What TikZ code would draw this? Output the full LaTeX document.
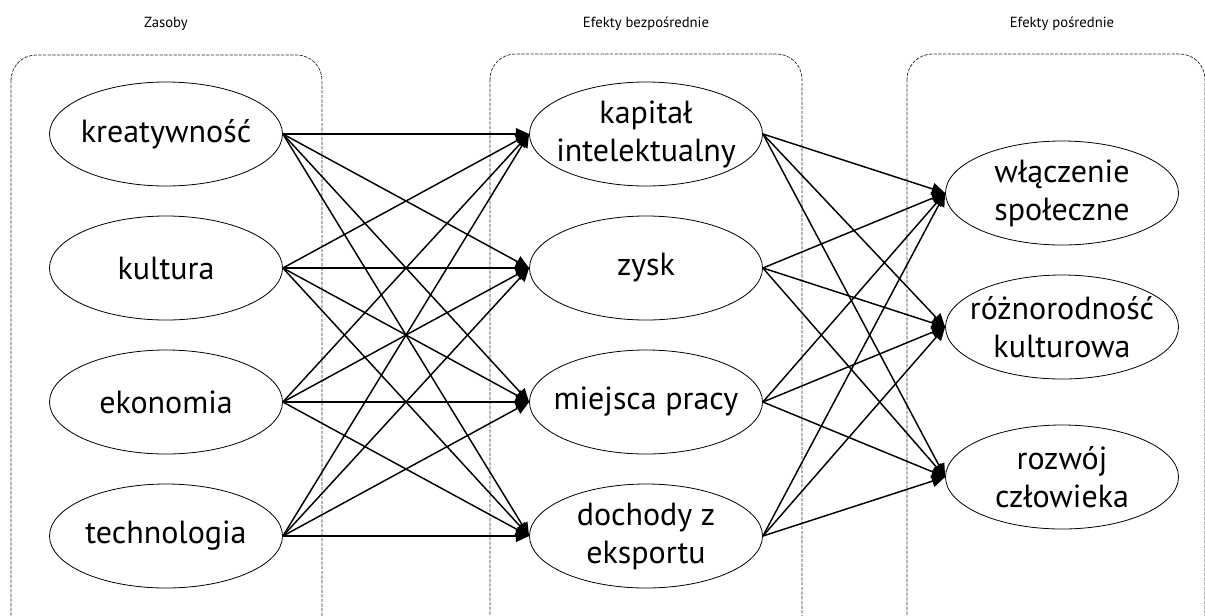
\documentclass[tikz,border=0pt]{standalone}
\usepackage{fontspec}
\setmainfont{PT Sans}
\usetikzlibrary{shapes.geometric}
\usetikzlibrary{positioning}
\usetikzlibrary{arrows.meta}

\begin{document}
\begin{tikzpicture} [ x=0.75pt, y=-0.75pt
								, node distance =100.5pt
								, wert/.style={ellipse, minimum width=174.75pt, minimum height=78pt, inner xsep=-30pt, inner ysep=0pt, line width=.6pt, draw, align=center, font=\fontsize{24}{28.5}\selectfont}
								, bereich/.style={draw=black!80, line width=.55pt, dash pattern=on 2.5pt off 1pt, rounded corners=19pt}
								, kopf/.style={font=\fontsize{11}{13}\selectfont}
								, pfeil/.style ={draw, line width=1.1pt, arrows= -{Triangle[length=10pt, width=9pt]}}
								]
	\useasboundingbox (0,0) rectangle (1205,615);

	% Bereiche
	\draw [bereich] (11,55) rectangle (322,640);
	\draw [bereich] (490,54) rectangle (802,640);
	\draw [bereich] (907,54) rectangle (1205,640);

	\node (Zasoby) 		[kopf] at (166,24) {Zasoby};
	\node (Bezposrednie) 	[kopf] at (646,24) {Efekty bezpośrednie};
	\node (Posrednie) 		[kopf] at (1062,24) {Efekty pośrednie};

	% Zasoby
	\node (kreatywnosc) 	[wert] at (166,134) {kreatywność};
	\node (kultura) 		[wert, below of = kreatywnosc] {kultura};
	\node (ekonomia) 		[wert, below of = kultura] {ekonomia};
	\node (technologia) 	[wert, below of = ekonomia] {technologia};

	% Efekty bezposrednie
	\node (kapital) 		[wert] at (646,134) {kapitał\\intelektualny};
	\node (zysk) 			[wert, below of = kapital] {zysk};
	\node (praca) 			[wert, below of = zysk] {miejsca pracy};
	\node (eksport) 		[wert, below of = praca] {dochody z\\eksportu};

	% Efekty posrednie
	\node (wlaczenie) 		[wert] at (1062,193) {włączenie\\społeczne};
	\node (roznorodnosc) 	[wert, below of = wlaczenie] {różnorodność\\kulturowa};
	\node (rozwoj) 		[wert, node distance =112.5pt, below of = roznorodnosc] {rozwój\\człowieka};

	\draw [pfeil] (kreatywnosc.east) -- (kapital.west);
	\draw [pfeil] (kreatywnosc.east) -- (zysk.west);
	\draw [pfeil] (kreatywnosc.east) -- (praca.west);
	\draw [pfeil] (kreatywnosc.east) -- (eksport.west);
	\draw [pfeil] (kultura.east) -- (kapital.west);
	\draw [pfeil] (kultura.east) -- (zysk.west);
	\draw [pfeil] (kultura.east) -- (praca.west);
	\draw [pfeil] (kultura.east) -- (eksport.west);
	\draw [pfeil] (ekonomia.east) -- (kapital.west);
	\draw [pfeil] (ekonomia.east) -- (zysk.west);
	\draw [pfeil] (ekonomia.east) -- (praca.west);
	\draw [pfeil] (ekonomia.east) -- (eksport.west);
	\draw [pfeil] (technologia.east) -- (kapital.west);
	\draw [pfeil] (technologia.east) -- (zysk.west);
	\draw [pfeil] (technologia.east) -- (praca.west);
	\draw [pfeil] (technologia.east) -- (eksport.west);

	\draw [pfeil] (kapital.east) -- (wlaczenie.west);
	\draw [pfeil] (kapital.east) -- (roznorodnosc.west);
	\draw [pfeil] (kapital.east) -- (rozwoj.west);
	\draw [pfeil] (zysk.east) -- (wlaczenie.west);
	\draw [pfeil] (zysk.east) -- (roznorodnosc.west);
	\draw [pfeil] (zysk.east) -- (rozwoj.west);
	\draw [pfeil] (praca.east) -- (wlaczenie.west);
	\draw [pfeil] (praca.east) -- (roznorodnosc.west);
	\draw [pfeil] (praca.east) -- (rozwoj.west);
	\draw [pfeil] (eksport.east) -- (wlaczenie.west);
	\draw [pfeil] (eksport.east) -- (roznorodnosc.west);
	\draw [pfeil] (eksport.east) -- (rozwoj.west);

\end{tikzpicture}
\end{document}
